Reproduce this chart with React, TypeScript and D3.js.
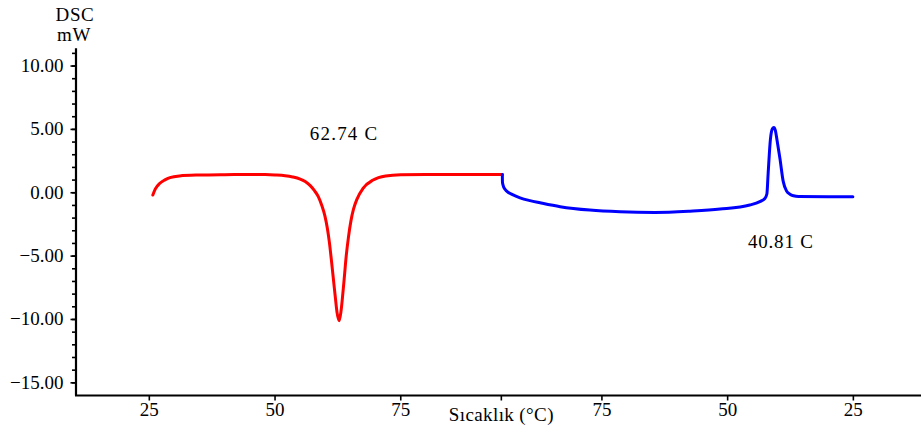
import React from "react";
import * as d3 from "d3";

// Heating run (°C, mW)
const heatTemp = [25.7, 26.2, 27.1, 28.1, 29.1, 31, 35, 40, 45, 48, 50, 52, 53.5, 55, 56, 57, 57.8, 58.6, 59.3, 59.9, 60.4, 60.8, 61.2, 61.6, 62.0, 62.35, 62.74, 63.1, 63.4, 63.75, 64.15, 64.6, 65.1, 65.6, 66.3, 67.5, 69.5, 72, 75, 80, 95.2];
const heatFlow = [-0.18, 0.3, 0.75, 1.02, 1.2, 1.33, 1.4, 1.43, 1.44, 1.44, 1.41, 1.35, 1.25, 1.08, 0.88, 0.56, 0.18, -0.3, -1.0, -1.8, -2.8, -3.9, -5.3, -6.8, -8.3, -9.5, -10.1, -9.4, -8.3, -6.8, -5.0, -3.5, -2.2, -1.3, -0.5, 0.35, 1.0, 1.32, 1.42, 1.44, 1.44];

// Cooling run (°C, mW)
const coolTemp = [94.8, 94.78, 94.66, 94.27, 93.67, 92.88, 91.28, 89.3, 87.3, 83.3, 77.4, 71.4, 64.5, 57.5, 51.5, 45.6, 43.6, 42.6, 42.2, 41.95, 41.5, 41.1, 40.81, 40.5, 40.2, 39.6, 38.95, 38.3, 37.6, 36.9, 35.9, 30, 25.1];
const coolFlow = [1.44, 0.85, 0.6, 0.27, 0.04, -0.13, -0.4, -0.62, -0.79, -1.1, -1.37, -1.5, -1.55, -1.45, -1.29, -0.97, -0.7, -0.45, -0.1, 1.5, 4.2, 5.05, 5.15, 4.9, 4.2, 2.7, 0.9, 0.15, -0.12, -0.24, -0.3, -0.32, -0.32];

// Peak annotations
const meltPeak = 62.74;
const crystPeak = 40.81;

// Axis ticks
const yMajorTicks = [10, 5, 0, -5, -10, -15];
const yMinorTicks = d3.range(-15, 12, 1);
const xTickTemps = [25, 50, 75, 95, 75, 50, 25];
const xTickRun = ["heat", "heat", "heat", "turn", "cool", "cool", "cool"];
const xTickLabels = ["25", "50", "75", "", "75", "50", "25"];

const xTitle = "Sıcaklık (°C)";
const yTitle = ["DSC", "mW"];

const W = 921;
const H = 428;
const TURN = 95; // end of heating / start of cooling

// Program axis: heating runs left→right, cooling continues from the turning point
const progHeat = (t: number) => t;
const progCool = (t: number) => 2 * TURN - t;

const x = d3.scaleLinear().domain([10.42, 178.45]).range([76, W]);
const y = d3.scaleLinear().domain([-16, 11.4]).range([395.5, 48.3]);

const font = "'Liberation Serif', 'Times New Roman', serif";

export default function App() {
  const line = d3
    .line<[number, number]>()
    .x((d) => x(d[0]))
    .y((d) => y(d[1]))
    .curve(d3.curveMonotoneX);

  const heatPts: [number, number][] = heatTemp.map((t, i) => [progHeat(t), heatFlow[i]]);
  const coolPts: [number, number][] = coolTemp.map((t, i) => [progCool(t), coolFlow[i]]);

  const xTickPos = xTickTemps.map((t, i) =>
    xTickRun[i] === "cool" ? progCool(t) : progHeat(t)
  );

  const x0 = x.range()[0];
  const yBase = y.range()[0];

  return (
    <svg
      width={W}
      height={H}
      style={{ position: "absolute", left: 0, top: 0, background: "#fff" }}
      fontFamily={font}
    >
      {/* y-axis title */}
      <text x={75} y={21} fontSize={19} textAnchor="middle" fill="#000" letterSpacing={0.6}>
        {yTitle[0]}
      </text>
      <text x={74} y={41} fontSize={19} textAnchor="middle" fill="#000" letterSpacing={0.6}>
        {yTitle[1]}
      </text>

      {/* y axis */}
      <line x1={x0} x2={x0} y1={y.range()[1]} y2={yBase} stroke="#000" strokeWidth={2.2} />
      {yMinorTicks.map((v) => (
        <line key={"m" + v} x1={x0 - 4} x2={x0} y1={y(v)} y2={y(v)} stroke="#000" strokeWidth={1.6} />
      ))}
      {yMajorTicks.map((v) => (
        <g key={"M" + v}>
          <line x1={x0 - 5.5} x2={x0} y1={y(v)} y2={y(v)} stroke="#000" strokeWidth={1.6} />
          <text x={63.5} y={y(v) + 6} fontSize={19} textAnchor="end" fill="#000">
            {d3.format(".2f")(v)}
          </text>
        </g>
      ))}

      {/* x axis */}
      <line x1={x0 - 1} x2={W} y1={yBase} y2={yBase} stroke="#000" strokeWidth={2.2} />
      {xTickPos.map((p, i) => (
        <g key={"x" + i}>
          <line x1={x(p)} x2={x(p)} y1={yBase} y2={yBase + 5} stroke="#000" strokeWidth={1.6} />
          {xTickLabels[i] && (
            <text x={x(p)} y={416} fontSize={19} textAnchor="middle" fill="#000">
              {xTickLabels[i]}
            </text>
          )}
        </g>
      ))}
      <text x={x(progHeat(TURN))} y={421} fontSize={19} textAnchor="middle" fill="#000" letterSpacing={0.4}>
        {xTitle}
      </text>

      {/* curves */}
      <path d={line(heatPts) || ""} fill="none" stroke="#ff0000" strokeWidth={3} strokeLinejoin="round" strokeLinecap="round" />
      <path d={line(coolPts) || ""} fill="none" stroke="#0000ff" strokeWidth={3} strokeLinejoin="round" strokeLinecap="round" />

      {/* peak labels */}
      <text x={x(progHeat(meltPeak)) + 5} y={140} fontSize={19} textAnchor="middle" fill="#000" letterSpacing={1.2}>
        {meltPeak.toFixed(2) + " C"}
      </text>
      <text x={x(progCool(crystPeak)) + 7} y={248} fontSize={19} textAnchor="middle" fill="#000" letterSpacing={0.8}>
        {crystPeak.toFixed(2) + " C"}
      </text>
    </svg>
  );
}
